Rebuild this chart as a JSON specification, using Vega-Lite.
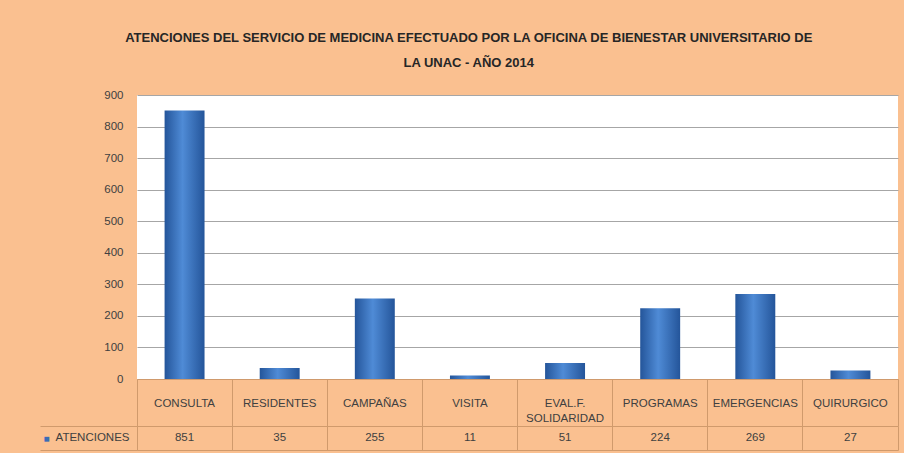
{
  "$schema": "https://vega.github.io/schema/vega-lite/v6.json",
  "background": "#FAC090",
  "padding": {"left": 39, "top": 32, "right": 7, "bottom": 2},
  "title": {
    "text": ["ATENCIONES DEL SERVICIO DE MEDICINA EFECTUADO POR LA OFICINA DE BIENESTAR UNIVERSITARIO DE", "LA UNAC - AÑO 2014"],
    "font": "Liberation Sans",
    "fontSize": 13,
    "fontWeight": "bold",
    "color": "#262626",
    "lineHeight": 25,
    "anchor": "middle",
    "offset": 19
  },
  "data": {
    "values": [
      {"servicio": "CONSULTA", "atenciones": 851},
      {"servicio": "RESIDENTES", "atenciones": 35},
      {"servicio": "CAMPAÑAS", "atenciones": 255},
      {"servicio": "VISITA", "atenciones": 11},
      {"servicio": "EVAL.F. SOLIDARIDAD", "atenciones": 51},
      {"servicio": "PROGRAMAS", "atenciones": 224},
      {"servicio": "EMERGENCIAS", "atenciones": 269},
      {"servicio": "QUIRURGICO", "atenciones": 27}
    ]
  },
  "bounds": "flush",
  "spacing": 47,
  "vconcat": [
    {
      "width": 761,
      "height": 284,
      "view": {"fill": "white", "stroke": null},
      "mark": {
        "type": "bar",
        "width": {"band": 0.42},
        "color": {
          "gradient": "linear",
          "x1": 0, "x2": 1, "y1": 0, "y2": 0,
          "stops": [
            {"offset": 0, "color": "#24559A"},
            {"offset": 0.45, "color": "#4F8BD6"},
            {"offset": 1, "color": "#24559A"}
          ]
        }
      },
      "encoding": {
        "x": {
          "field": "servicio",
          "type": "nominal",
          "sort": null,
          "scale": {"type": "band", "paddingInner": 0, "paddingOuter": 0},
          "axis": {
            "title": null,
            "labelAngle": 0,
            "bandPosition": 1,
            "tickExtra": true,
            "tickSize": 47,
            "tickColor": "#D09A6C",
            "domainColor": "#D09A6C",
            "labelPadding": -23,
            "labelBaseline": "middle",
            "labelFont": "Liberation Sans",
            "labelFontSize": 11.5,
            "labelColor": "#404040",
            "labelLineHeight": 15,
            "labelLimit": 200,
            "labelExpr": "datum.label == 'EVAL.F. SOLIDARIDAD' ? ['EVAL.F.', 'SOLIDARIDAD'] : datum.label"
          }
        },
        "y": {
          "field": "atenciones",
          "type": "quantitative",
          "scale": {"domain": [0, 900]},
          "axis": {
            "title": null,
            "values": [0, 100, 200, 300, 400, 500, 600, 700, 800, 900],
            "domain": false,
            "ticks": false,
            "labelPadding": 14,
            "labelFont": "Liberation Sans",
            "labelFontSize": 11.5,
            "labelColor": "#404040",
            "gridColor": "#A6A6A6",
            "minExtent": 97
          }
        }
      }
    },
    {
      "width": 761,
      "height": 24,
      "view": {"fill": null, "stroke": "#D09A6C"},
      "mark": {
        "type": "text",
        "font": "Liberation Sans",
        "fontSize": 11.5,
        "baseline": "middle",
        "color": "#404040"
      },
      "encoding": {
        "x": {
          "field": "servicio",
          "type": "nominal",
          "sort": null,
          "scale": {"type": "band", "paddingInner": 0, "paddingOuter": 0},
          "axis": {
            "title": null,
            "labels": false,
            "ticks": false,
            "domain": false,
            "grid": true,
            "gridColor": "#D09A6C",
            "bandPosition": 0
          }
        },
        "y": {
          "datum": "ATENCIONES",
          "type": "nominal",
          "scale": {"type": "band", "paddingInner": 0, "paddingOuter": 0},
          "axis": {
            "title": "■",
            "titleColor": "#3A6DB5",
            "titleAngle": 0,
            "titleFontSize": 10,
            "titleX": -91,
            "titleY": 12,
            "titleAlign": "center",
            "titleBaseline": "middle",
            "bandPosition": 1,
            "tickExtra": true,
            "tickSize": 97,
            "tickColor": "#D09A6C",
            "domainColor": "#D09A6C",
            "labelPadding": -89,
            "labelFont": "Liberation Sans",
            "labelFontSize": 11.5,
            "labelColor": "#404040",
            "minExtent": 97,
            "maxExtent": 97
          }
        },
        "text": {"field": "atenciones", "type": "quantitative"}
      }
    }
  ]
}
